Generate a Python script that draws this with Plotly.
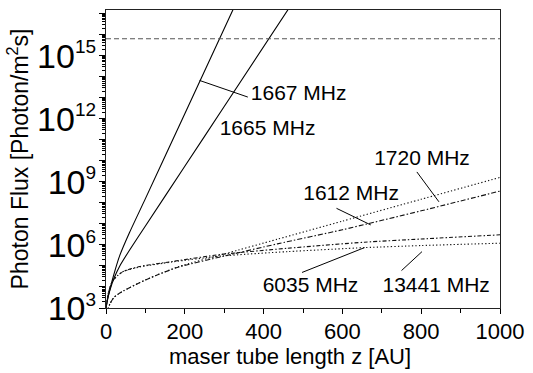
import plotly.graph_objects as go

# ---------------- data (z in AU, flux as log10 of photon/m^2 s) ----------------
z_1667 = [0, 5, 10, 20, 35, 60, 100, 200, 340]
lg_1667 = [3.0, 3.5, 3.9, 4.6, 5.5, 6.6, 8.2, 12.24, 17.9]

z_1665 = [0, 5, 10, 20, 35, 60, 100, 200, 300, 480]
lg_1665 = [3.0, 3.5, 3.85, 4.4, 5.0, 5.76, 6.9, 9.74, 12.58, 17.7]

z_1720 = [3, 6, 10, 20, 30, 45, 85, 127, 185, 300, 435, 600, 800, 1000]
lg_1720 = [2.8, 3.0, 3.2, 3.5, 3.65, 3.82, 4.2, 4.55, 4.97, 5.57, 6.27, 7.13, 8.17, 9.21]

z_1612 = [3, 6, 10, 20, 30, 45, 85, 127, 185, 300, 435, 600, 800, 1000]
lg_1612 = [2.8, 3.0, 3.2, 3.5, 3.65, 3.82, 4.2, 4.55, 4.95, 5.47, 6.05, 6.72, 7.62, 8.56]

z_6035 = [0, 3, 7, 16, 30, 43, 85, 168, 293, 460, 656, 800, 1000]
lg_6035 = [3.0, 3.4, 3.8, 4.26, 4.55, 4.73, 4.97, 5.21, 5.55, 5.84, 6.13, 6.28, 6.48]

z_13441 = [0, 3, 7, 16, 30, 43, 85, 168, 293, 460, 656, 800, 1000]
lg_13441 = [3.0, 3.4, 3.8, 4.26, 4.55, 4.73, 4.95, 5.19, 5.47, 5.68, 5.87, 5.97, 6.08]

lg_limit = 15.8  # horizontal dashed reference level

# labels: text, text centre (z, log10), pointer start, pointer end
label_text = ["1667 MHz", "1665 MHz", "1720 MHz", "1612 MHz", "6035 MHz", "13441 MHz"]
label_z = [489, 410, 802, 622, 519, 838]
label_lg = [13.16, 11.49, 10.07, 8.37, 4.02, 4.02]
ptr_z0 = [237.5, None, 789, 585, 497.5, 750]
ptr_lg0 = [13.82, None, 9.47, 7.74, 4.69, 4.78]
ptr_z1 = [360, None, 845, 672, 656, 802]
ptr_lg1 = [13.03, None, 8.05, 6.95, 5.87, 5.68]

x_ticks = [0, 200, 400, 600, 800, 1000]
y_decades = list(range(3, 18))
y_labelled = [3, 6, 9, 12, 15]

# ---------------- figure ----------------
def p(v):
    return [10 ** a for a in v]

fig = go.Figure()

series = [
    (z_1667, lg_1667, "solid", "#000"),
    (z_1665, lg_1665, "solid", "#000"),
    (z_1720, lg_1720, "1.3px,2.2px", "#111"),
    (z_1612, lg_1612, "5px,2px,1.5px,2px", "#111"),
    (z_6035, lg_6035, "4px,2px,1.5px,2px", "#111"),
    (z_13441, lg_13441, "1.3px,2.2px", "#111"),
]
for zs, ls, dash, col in series:
    fig.add_trace(go.Scatter(x=zs, y=p(ls), mode="lines",
                             line=dict(color=col, width=1.1, dash=dash, shape="spline", smoothing=0.6),
                             showlegend=False, hoverinfo="skip"))

# dashed horizontal level
fig.add_trace(go.Scatter(x=[0, 1000], y=p([lg_limit, lg_limit]), mode="lines",
                         line=dict(color="#555", width=1.1, dash="5px,3px"),
                         showlegend=False, hoverinfo="skip"))

# pointer lines
px_, py_ = [], []
for a, b, c, d in zip(ptr_z0, ptr_lg0, ptr_z1, ptr_lg1):
    if a is None:
        continue
    px_ += [a, c, None]
    py_ += [10 ** b, 10 ** d, None]
fig.add_trace(go.Scatter(x=px_, y=py_, mode="lines", line=dict(color="#000", width=1),
                         showlegend=False, hoverinfo="skip"))

# labels
fig.add_trace(go.Scatter(x=label_z, y=p(label_lg), mode="text", text=label_text,
                         textposition="middle center",
                         textfont=dict(family="Liberation Sans, Arial", size=21, color="#000"),
                         showlegend=False, hoverinfo="skip"))

ytext = [("10<sup><span style='font-size:19px'>%d</span></sup>" % k) if k in y_labelled else ""
         for k in y_decades]
minor_y = [m * 10 ** k for k in range(3, 17) for m in range(2, 10)]

fig.update_layout(
    width=533, height=373,
    margin=dict(l=106, r=27, t=9, b=65),
    paper_bgcolor="white", plot_bgcolor="white",
    font=dict(family="Liberation Sans, Arial", color="#000"),
    xaxis=dict(range=[0, 1000], tickmode="array", tickvals=x_ticks,
               ticks="outside", ticklen=5, tickwidth=1, tickcolor="#000",
               ticklabelstandoff=-2,
               minor=dict(dtick=100, ticks="outside", ticklen=4, tickcolor="#000"),
               showline=True, linecolor="#222", linewidth=1.3, mirror=True,
               showgrid=False, zeroline=False,
               tickfont=dict(size=22)),
    yaxis=dict(type="log", range=[3, 17.17], tickmode="array",
               tickvals=[10 ** k for k in y_decades], ticktext=ytext,
               ticks="outside", ticklen=6, tickwidth=1, tickcolor="#000",
               ticklabelstandoff=-4,
               minor=dict(tickvals=minor_y, ticks="outside", ticklen=3, tickcolor="#000"),
               showline=True, linecolor="#222", linewidth=1.3, mirror=True,
               showgrid=False, zeroline=False,
               tickfont=dict(size=34),
               title=dict(text="Photon Flux [Photon/m<sup>2</sup>s]", font=dict(size=23), standoff=2)),
    annotations=[dict(text="maser tube length z [AU]", xref="paper", yref="paper",
                      x=0.4675, y=-0.162, xanchor="center", yanchor="middle",
                      showarrow=False, font=dict(size=22))],
)

fig.write_html("out.html")
